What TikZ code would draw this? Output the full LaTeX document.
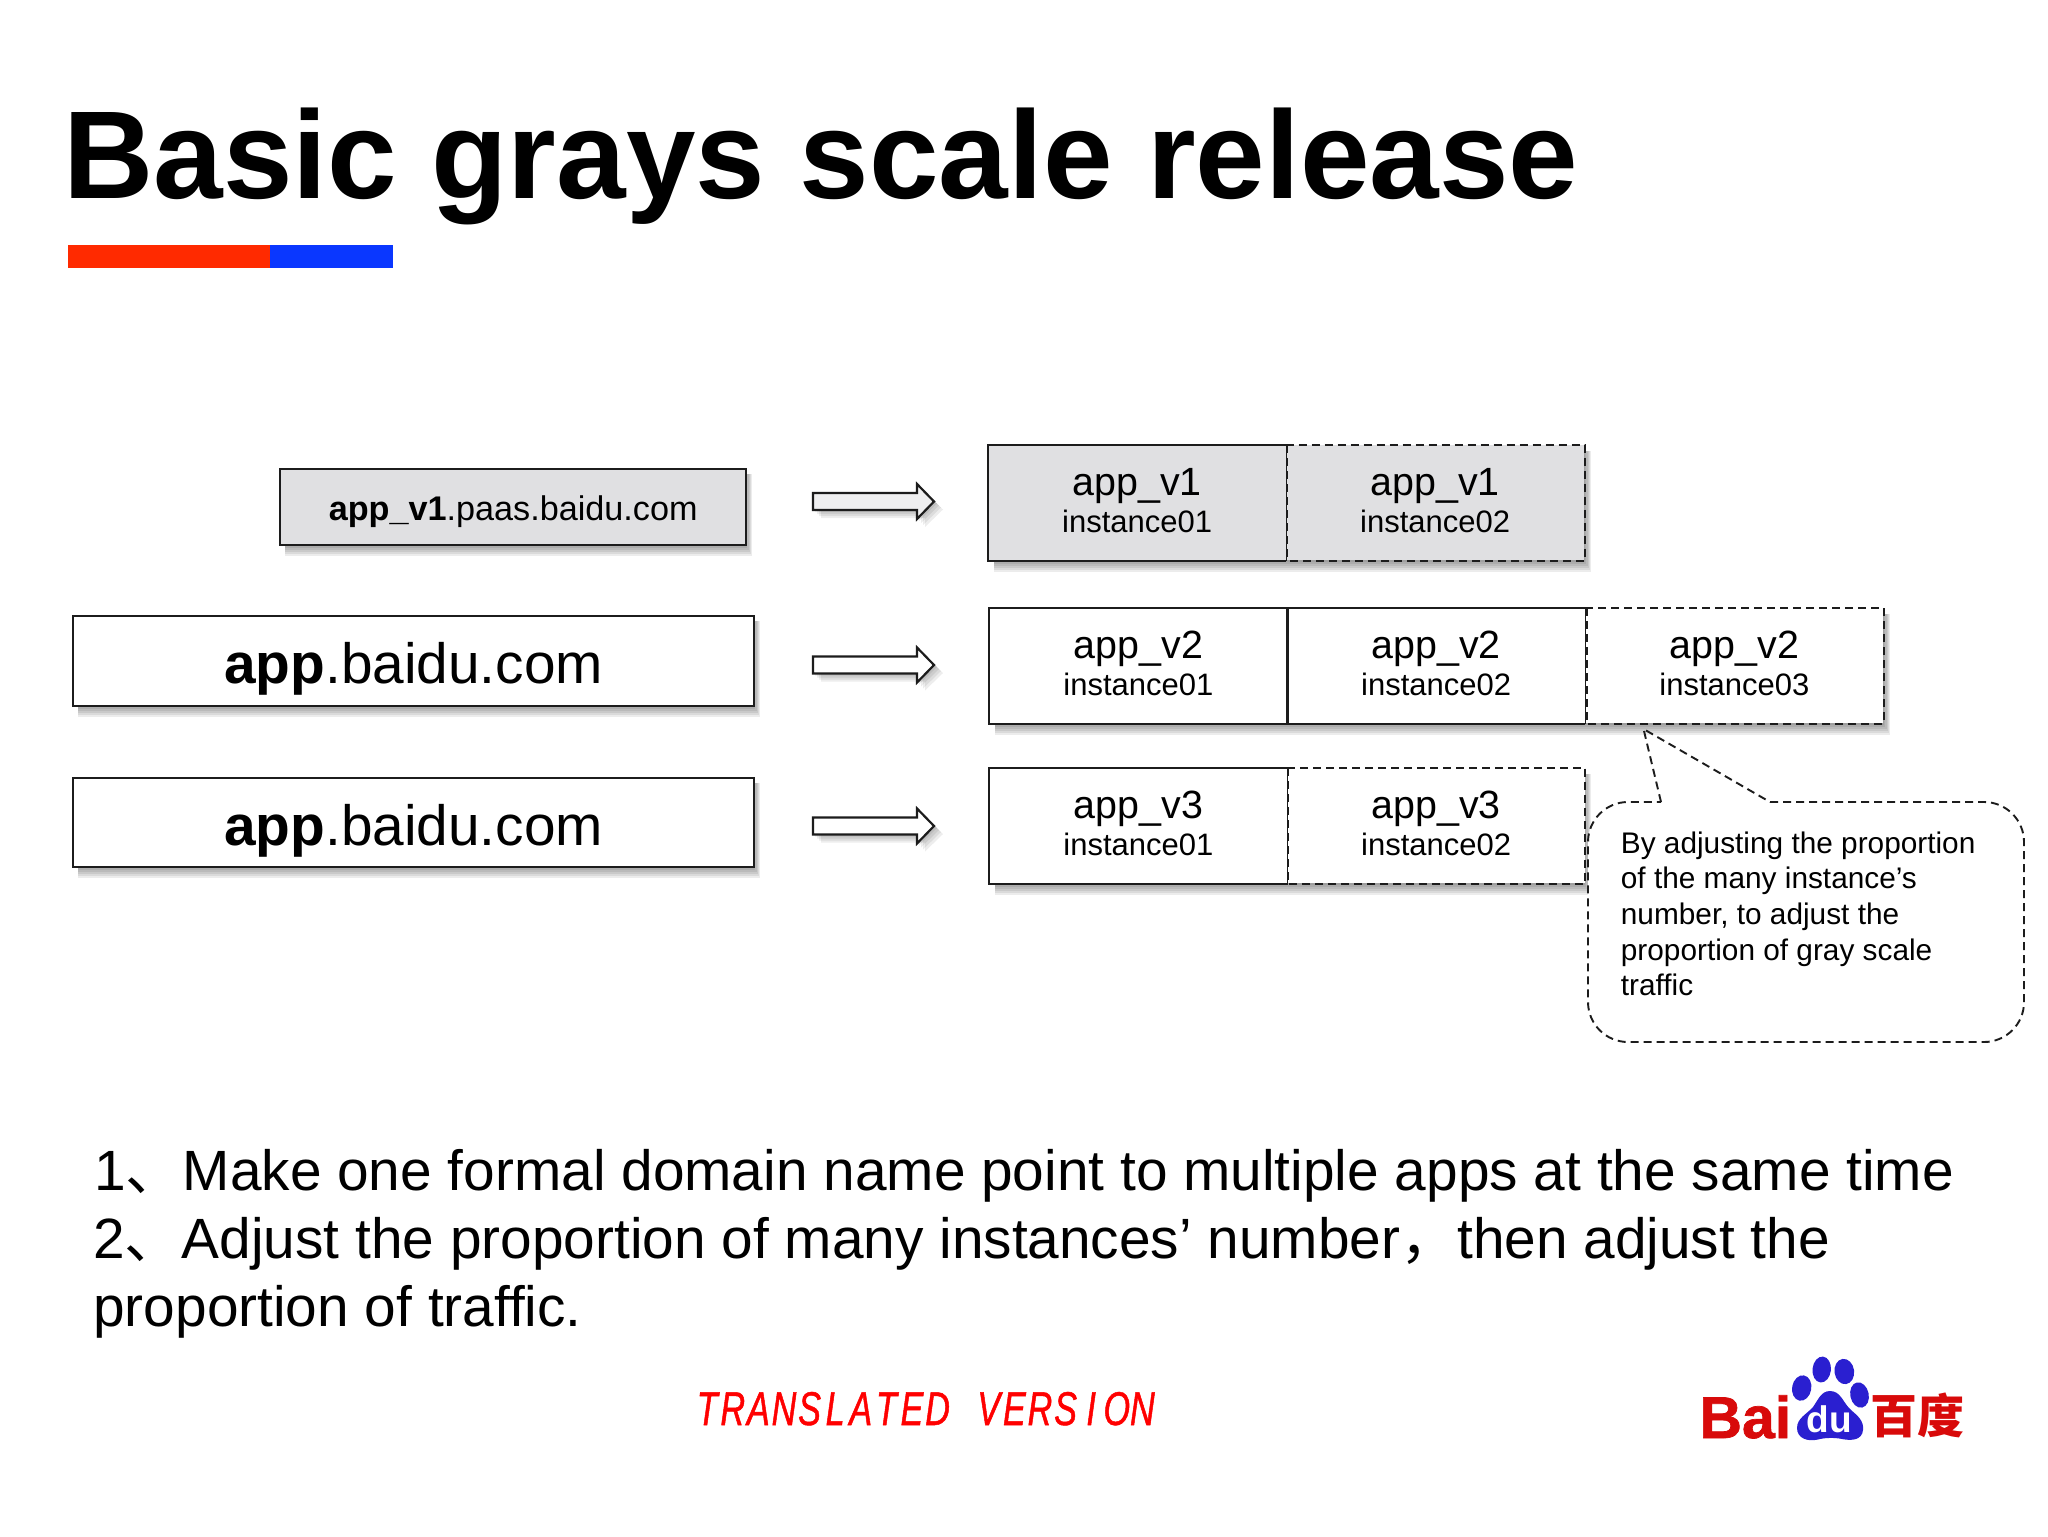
\documentclass[tikz,border=0pt]{standalone}
\usepackage{fontspec}
\setmainfont{Liberation Sans}
\newfontfamily\cjk{Noto Sans CJK SC}
\newfontfamily\tvfont[FakeStretch=0.72,FakeBold=1]{Liberation Sans}
\newfontfamily\heavyfont[FakeBold=1.2]{Liberation Sans Bold}
\definecolor{cellgray}{HTML}{E0E0E2}
\definecolor{edgeink}{HTML}{1C1C1C}
\definecolor{barred}{HTML}{FF2A00}
\definecolor{barblue}{HTML}{0A37FF}
\definecolor{logored}{HTML}{D80A0A}
\definecolor{logoblue}{HTML}{2A1FD0}
\newcommand{\softshadow}[4]{%
  \foreach \d in {2,4,6,8,10,12}{%
    \fill[black,opacity=.075] (#1+6,#2+6) rectangle (#3+0.6*\d,#4+\d);}}
\newcommand{\cellt}[2]{{\fontsize{19.7}{18.5}\selectfont #1}\\{\fontsize{15.5}{18.5}\selectfont #2}}
\newcommand{\blockarrow}[2]{%
  \foreach \d in {2,4,6,8}{%
    \fill[black,opacity=.07] (813+\d,#1-8.5+\d) -- (917+\d,#1-8.5+\d) -- (917+\d,#1-17.5+\d) -- (935+\d,#1+\d) -- (917+\d,#1+17.5+\d) -- (917+\d,#1+8.5+\d) -- (813+\d,#1+8.5+\d) -- cycle;}
  \draw[arrowline,fill=#2] (813,#1-8.5) -- (917,#1-8.5) -- (917,#1-17.5) -- (934,#1) -- (917,#1+17.5) -- (917,#1+8.5) -- (813,#1+8.5) -- cycle;}
\newcommand{\tvc}[1]{\makebox[12.8pt][c]{#1}}
\tikzset{
  x=0.5pt,y=-0.5pt,
  domainbox/.style={draw=edgeink,line width=1.2pt,inner sep=0pt,anchor=north west},
  cellbox/.style={inner sep=0pt,minimum height=57.5pt,anchor=north west,align=center,font=\fontsize{15.5}{18.5}\selectfont},
  solidedge/.style={draw=edgeink,line width=1.1pt},
  thinedge/.style={draw=edgeink,line width=.7pt},
  dashedge/.style={draw=edgeink,line width=.95pt,dash pattern=on 4pt off 2.5pt},
  arrowline/.style={draw=edgeink,line width=1.1pt,miter limit=4},
}
\begin{document}
\begin{tikzpicture}
\useasboundingbox (0,0) rectangle (2048,1536);
\fill[white] (0,0) rectangle (2048,1536);

% title and bars
\node[anchor=base west,inner sep=0pt,font=\fontsize{62.5}{63}\selectfont\bfseries] (title) at (63,198) {Basic grays scale release};
\fill[barred] (68,245) rectangle (270,268);
\fill[barblue] (270,245) rectangle (393,268);

% shadows
\softshadow{279}{468}{745}{544}
\softshadow{72}{615}{753}{705}
\softshadow{72}{777}{753}{866}
\softshadow{988}{445}{1584}{560}
\softshadow{989}{608}{1883}{723}
\softshadow{989}{768}{1584}{883}

% left boxes
\node[domainbox,fill=cellgray,minimum width=233pt,minimum height=38pt,text height=13pt,text depth=.1pt,font=\fontsize{17.1}{20}\selectfont] (d1) at (279,468) {\textbf{app\_v1}.paas.baidu.com};
\node[domainbox,fill=white,minimum width=340.5pt,minimum height=45pt,text height=24pt,text depth=1.4pt,font=\fontsize{28.4}{32}\selectfont] (d2) at (72,615) {\textbf{app}.baidu.com};
\node[domainbox,fill=white,minimum width=340.5pt,minimum height=44.5pt,text height=24pt,text depth=1.4pt,font=\fontsize{28.4}{32}\selectfont] (d3) at (72,777) {\textbf{app}.baidu.com};

% arrows
\blockarrow{501.5}{cellgray!50}
\blockarrow{665}{white}
\blockarrow{826}{white}

% row 1
\node[cellbox,fill=cellgray,minimum width=148.75pt,text depth=2pt] (a1) at (988,445) {\cellt{app\_v1}{instance01}};
\node[cellbox,fill=cellgray,minimum width=149.25pt,text depth=2pt] (a2) at (1285.5,445) {\cellt{app\_v1}{instance02}};
\draw[solidedge] (a1.north east) -- (a1.north west) -- (a1.south west) -- (a1.south east);
\draw[thinedge] (a1.north east) -- (a1.south east);
\draw[dashedge] ([xshift=.6pt]a2.north west) -- ([xshift=.6pt]a2.south west);
\draw[dashedge] (a2.north west) -- (a2.north east) -- (a2.south east) -- (a2.south west);

% row 2
\node[cellbox,fill=white,minimum width=149pt,text depth=3pt] (b1) at (989,608) {\cellt{app\_v2}{instance01}};
\node[cellbox,fill=white,minimum width=148.75pt,text depth=3pt] (b2) at (1287,608) {\cellt{app\_v2}{instance02}};
\node[cellbox,fill=white,minimum width=149pt,text depth=3pt] (b3) at (1585,608) {\cellt{app\_v2}{instance03}};
\draw[solidedge] (b1.north west) rectangle (b1.south east);
\draw[solidedge] (b2.north east) -- (b2.north west) -- (b2.south west) -- (b2.south east);
\draw[thinedge] (b2.north east) -- (b2.south east);
\draw[dashedge] ([xshift=.8pt]b3.north west) -- ([xshift=.8pt]b3.south west);
\draw[dashedge] (b3.north west) -- (b3.north east) -- (b3.south east) -- (b3.south west);

% row 3
\node[cellbox,fill=white,minimum width=149pt,text depth=3pt] (c1) at (989,768) {\cellt{app\_v3}{instance01}};
\node[cellbox,fill=white,minimum width=148.75pt,text depth=3pt] (c2) at (1287,768) {\cellt{app\_v3}{instance02}};
\draw[solidedge] (c1.north east) -- (c1.north west) -- (c1.south west) -- (c1.south east);
\draw[draw=edgeink,line width=.5pt] (c1.north east) -- (c1.south east);
\draw[dashedge] ([xshift=.4pt]c2.north west) -- ([xshift=.4pt]c2.south west);
\draw[dashedge] (c2.north west) -- (c2.north east) -- (c2.south east) -- (c2.south west);

% callout
\coordinate (tip) at (1643.5,729);
\coordinate (basea) at (1661,802);
\coordinate (baseb) at (1770,802);
\fill[white,rounded corners=20pt] (1720,802) -- (2024,802) -- (2024,1042) -- (1588,1042) -- (1588,802) -- cycle;
\draw[dashedge,rounded corners=20pt] (baseb) -- (2024,802) -- (2024,1042) -- (1588,1042) -- (1588,802) -- (basea);
\draw[dashedge] (basea) -- (tip) -- (baseb);
\node[anchor=north west,inner sep=0pt,align=left,font=\fontsize{14.9}{17.85}\selectfont] (note) at (1620.5,831) {By adjusting the proportion\\of the many instance’s\\number, to adjust the\\proportion of gray scale\\traffic};

% body text
\node[anchor=base west,inner sep=0pt,font=\fontsize{28.4}{28}\selectfont] (l1) at (94,1190) {1{\cjk 、}Make one formal domain name point to multiple apps at the same time};
\node[anchor=base west,inner sep=0pt,font=\fontsize{28.4}{28}\selectfont] (l2) at (93,1258) {2{\cjk 、}Adjust the proportion of many instances’ number{\cjk ，}then adjust the};
\node[anchor=base west,inner sep=0pt,font=\fontsize{28.4}{28}\selectfont] (l3) at (93,1326) {proportion of traffic.};

% translated version
\node[anchor=base west,inner sep=0pt,text=red,font=\fontsize{23.7}{24}\tvfont\itshape] (tv) at (694,1425) {\tvc{T}\tvc{R}\tvc{A}\tvc{N}\tvc{S}\tvc{L}\tvc{A}\tvc{T}\tvc{E}\tvc{D}\tvc{ }\tvc{V}\tvc{E}\tvc{R}\tvc{S}\tvc{I}\tvc{O}\tvc{N}};

% logo
\node[anchor=base west,inner sep=0pt,text=logored,font=\fontsize{29.5}{30}\heavyfont] (bai) at (1699,1438) {Bai};
\fill[logoblue,rotate around={-6:(1821.7,1369.5)}] (1821.7,1369.5) ellipse [x radius=9.2,y radius=13];
\fill[logoblue,rotate around={8:(1844.3,1371.5)}] (1844.3,1371.5) ellipse [x radius=9.8,y radius=12.7];
\fill[logoblue,rotate around={-10:(1801.7,1388)}] (1801.7,1388) ellipse [x radius=9.6,y radius=12.8];
\fill[logoblue,rotate around={12:(1859.5,1395)}] (1859.5,1395) ellipse [x radius=9.2,y radius=12.8];
\fill[logoblue] (1830,1391) .. controls (1841,1391) and (1843,1403) .. (1851,1410) .. controls (1858,1416) and (1864,1421) .. (1863,1430) .. controls (1862,1440) and (1852,1441) .. (1842,1439) .. controls (1835,1437.5) and (1825,1437.5) .. (1818,1439.5) .. controls (1807,1442) and (1797,1438) .. (1797,1428) .. controls (1797,1418) and (1807,1414) .. (1813,1407) .. controls (1818,1400) and (1821,1391) .. (1830,1391) -- cycle;
\node[anchor=base,inner sep=0pt,text=white,font=\fontsize{18.5}{18}\selectfont\bfseries] (du) at (1829,1432) {du};
\node[anchor=base west,inner sep=0pt,text=logored,font=\fontsize{23.5}{24}\cjk\bfseries] (baidu) at (1870.5,1433.5) {百度};
\end{tikzpicture}
\end{document}
